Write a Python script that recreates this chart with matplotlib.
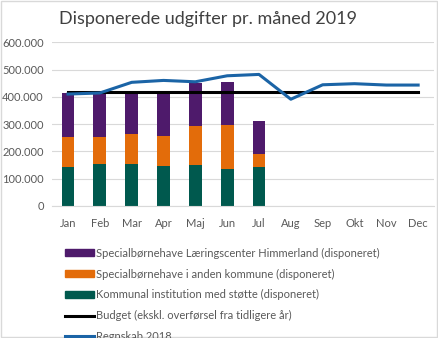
import matplotlib.pyplot as plt
from matplotlib.ticker import FuncFormatter
from matplotlib.lines import Line2D
from matplotlib.patches import Patch
import numpy as np

plt.rcParams['font.family'] = ['Lato', 'DejaVu Sans']

months = ['Jan', 'Feb', 'Mar', 'Apr', 'Maj', 'Jun', 'Jul', 'Aug', 'Sep', 'Okt', 'Nov', 'Dec']
bar_months = months[:7]

kommunal = [143000, 153000, 153000, 146000, 149000, 135000, 143000]
anden_kommune = [109000, 99000, 110000, 110000, 144000, 163000, 48000]
himmerland = [161000, 163000, 152000, 159000, 159000, 156000, 121000]

budget = [416000] * 12
regnskab_2018 = [410000, 414000, 453000, 460000, 455000, 477000, 482000,
                 391000, 444000, 448000, 443000, 443000]

c_purple = '#4E1A6B'
c_orange = '#E36C0A'
c_green = '#00594E'
c_blue = '#1B64A6'
grey = '#595959'

fig = plt.figure(figsize=(4.38, 3.38), dpi=100)
ax = fig.add_axes([0.119, 0.391, 0.872, 0.484])

x = np.arange(len(months))
xb = np.arange(len(bar_months))
w = 0.4
ax.bar(xb, kommunal, w, color=c_green, zorder=2)
ax.bar(xb, anden_kommune, w, bottom=kommunal, color=c_orange, zorder=2)
bottom2 = np.array(kommunal) + np.array(anden_kommune)
ax.bar(xb, himmerland, w, bottom=bottom2, color=c_purple, zorder=2)

ax.plot(x, budget, color='black', lw=2.2, zorder=3)
ax.plot(x, regnskab_2018, color=c_blue, lw=2.2, zorder=4)

ax.set_xlim(-0.5, 11.5)
ax.set_ylim(0, 600000)
ax.set_yticks(range(0, 600001, 100000))
ax.yaxis.set_major_formatter(FuncFormatter(lambda v, p: f'{int(v):,}'.replace(',', '.')))
ax.set_xticks(x)
ax.set_xticklabels(months)
ax.tick_params(axis='both', length=0, labelsize=8, colors=grey)
ax.tick_params(axis='x', pad=9)
ax.tick_params(axis='y', pad=6)
ax.grid(axis='y', color='#D9D9D9', lw=0.8, zorder=0)
for s in ['top', 'right', 'left']:
    ax.spines[s].set_visible(False)
ax.spines['bottom'].set_color('#D9D9D9')

fig.text(0.475, 0.945, 'Disponerede udgifter pr. måned 2019', ha='center', va='center',
         fontsize=13, color='#404040')

handles = [Patch(color=c_purple), Patch(color=c_orange), Patch(color=c_green),
           Line2D([], [], color='black', lw=2.2), Line2D([], [], color=c_blue, lw=2.2)]
labels = ['Specialbørnehave Læringscenter Himmerland (disponeret)',
          'Specialbørnehave i anden kommune (disponeret)',
          'Kommunal institution med støtte (disponeret)',
          'Budget (ekskl. overførsel fra tidligere år)',
          'Regnskab 2018']
leg = fig.legend(handles, labels, loc='upper left', bbox_to_anchor=(0.148, 0.267),
                 frameon=False, fontsize=8, labelspacing=0.88, handlelength=2.6,
                 handleheight=0.6, handletextpad=0.2, borderaxespad=0, borderpad=0)
for t in leg.get_texts():
    t.set_color(grey)

fig.patches.append(plt.Rectangle((0.002, 0.002), 0.996, 0.996, transform=fig.transFigure,
                                 fill=False, edgecolor='#D9D9D9', lw=1))

plt.savefig('out.png', dpi=100)
plt.close()
